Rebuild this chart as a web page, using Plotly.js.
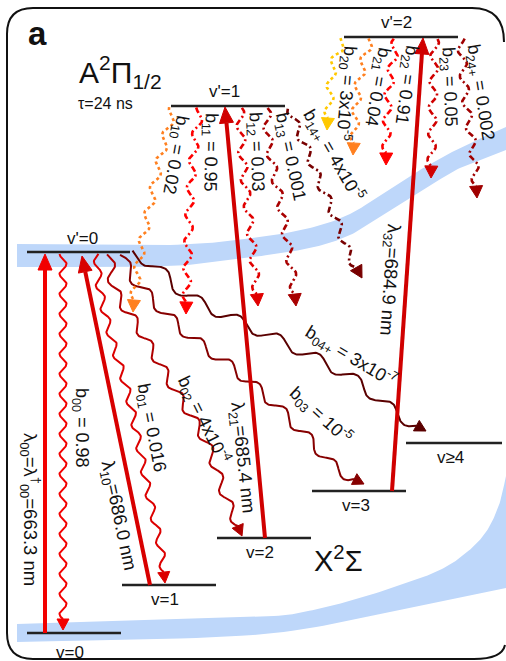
<!DOCTYPE html>
<html>
<head>
<meta charset="utf-8">
<script src="https://cdn.plot.ly/plotly-3.0.1.min.js"></script>
<style>
  html, body { margin: 0; padding: 0; background: #fff; overflow: hidden; }
  #chart { width: 506px; height: 661px; }
</style>
</head>
<body>
<div id="chart"></div>
<script>
// ---- spectroscopic values ----
const upperStates = ["v'=0", "v'=1", "v'=2"];
const lowerStates = ["v=0", "v=1", "v=2", "v=3", "v≥4"];
const pumpNames = ["λ<sub>00</sub>=λ<sup>†</sup><sub>00</sub>", "λ<sub>10</sub>", "λ<sub>21</sub>", "λ<sub>32</sub>"];
const pumpNm = ["663.3", "686.0", "685.4", "684.9"];
const decayNames0 = ["00", "01", "02", "03", "04+"];
const decayRatios0 = ["0.98", "0.016", "4x10<sup>-4</sup>", "10<sup>-5</sup>", "3x10<sup>-7</sup>"];
const decayNames1 = ["10", "11", "12", "13", "14+"];
const decayRatios1 = ["0.02", "0.95", "0.03", "0.001", "4x10<sup>-5</sup>"];
const decayNames2 = ["20", "21", "22", "23", "24+"];
const decayRatios2 = ["3x10<sup>-5</sup>", "0.04", "0.91", "0.05", "0.002"];
const excitedState = "A<sup>2</sup>Π<sub>1/2</sub>";
const groundState = "X<sup>2</sup>Σ";
const lifetime = "τ=24 ns";

// ---- diagram geometry (plot units) ----
const upperX0 = [27, 171, 344], upperX1 = [130, 285, 458], upperY = [252, 106, 37];
const upperLabelXY = [[82, 238], [224, 91], [396, 22]];
const lowerX0 = [27, 122, 217, 312, 406], lowerX1 = [121, 216, 311, 406, 502], lowerY = [633, 585, 538, 491, 443];
const lowerLabelXY = [[70, 652], [165, 599], [260, 552], [356, 505], [450, 457]];

const pumpFrom = [[45, 633], [150, 585], [265, 538], [392, 491]];
const pumpTo = [[45, 254], [82, 256], [225, 107], [423, 38]];
const pumpColor = ["#f20000", "#d80000", "#d00000", "#d00000"];
const pumpLabelXY = [[31, 509], [118, 516], [242, 458], [389, 280]];
const pumpLabelAngle = [90, 78, 84, 94];

// centrelines of the spontaneous-decay paths
const decayPaths0 = [
  [[63, 254], [63, 630]],
  [[97, 254], [100, 290], [112, 340], [127, 390], [138, 440], [150, 500], [160, 545], [165, 583]],
  [[110, 254], [115, 290], [140, 330], [175, 390], [205, 440], [225, 495], [242, 536]],
  [[122, 254], [135, 280], [183, 330], [235, 370], [270, 400], [310, 440], [336, 468], [364, 484]],
  [[131, 254], [152, 264], [190, 297], [253, 328], [303, 352], [353, 379], [396, 413], [426, 431]]
];
const decayColors0 = ["#f20000", "#dc0000", "#b00000", "#860000", "#5a0000"];
const decayAmp0 = [3.5, 3.5, 4.5, 5, 5.5];
const decayPeriod0 = [20, 24, 30, 36, 44];
const decayLabelXY0 = [[81, 428], [151, 428], [204, 419], [321, 415], [351, 356]];
const decayLabelAngle0 = [90, 79, 64, 42, 31];

const decayPaths1 = [
  [[173, 108], [160, 160], [148, 215], [140, 255], [135, 290], [133, 312]],
  [[200, 108], [194, 150], [190, 200], [188, 250], [187, 280], [186, 314]],
  [[240, 108], [242, 150], [247, 200], [252, 243], [258, 306]],
  [[267, 108], [268, 135], [273, 167], [280, 200], [287, 240], [293, 280], [296, 306]],
  [[290, 108], [298, 130], [308, 152], [318, 178], [330, 205], [340, 230], [348, 252], [362, 278]]
];
const decayColors1 = ["#ff8020", "#ff0000", "#e00000", "#a80000", "#780000"];
const decayLabelXY1 = [[175, 155], [210, 152], [256, 152], [290, 157], [334, 155]];
const decayLabelAngle1 = [100, 91, 88, 78, 60];

const decayPaths2 = [
  [[343, 39], [333, 67], [330, 93], [327, 130]],
  [[370, 39], [360, 77], [356, 110], [353, 155]],
  [[396, 39], [388, 100], [386, 165]],
  [[435, 39], [433, 100], [431, 178]],
  [[461, 39], [466, 100], [473, 150], [477, 198]]
];
const decayColors2 = ["#ffc800", "#ff8020", "#ff0000", "#d00000", "#a00000"];
const decayLabelXY2 = [[347, 93], [377, 87], [406, 85], [449, 87], [480, 92]];
const decayLabelAngle2 = [95, 100, 98, 88, 81];

// potential-curve bands
const bandUpperTop = [[17, 244], [170, 245], [253, 238], [310, 228], [350, 214], [385, 192], [420, 170], [460, 148], [506, 127]];
const bandUpperBot = [[17, 267], [170, 266], [253, 257], [310, 248], [350, 235], [385, 214], [420, 192], [460, 168], [506, 150]];
const bandLowerTop = [[17, 624], [253, 617], [303, 612], [353, 600], [403, 584], [440, 570], [466, 553], [486, 532], [499, 505], [506, 476]];
const bandLowerBot = [[17, 642], [253, 635], [380, 614], [506, 588]];

// ---- helpers ----
const FONT = "Liberation Sans, Arial, sans-serif";

function densify(pts, steps) {
  steps = steps || 24;
  const out = [];
  const n = pts.length;
  for (let i = 0; i < n - 1; i++) {
    const p0 = pts[Math.max(i - 1, 0)], p1 = pts[i], p2 = pts[i + 1], p3 = pts[Math.min(i + 2, n - 1)];
    for (let k = 0; k < steps; k++) {
      const t = k / steps, t2 = t * t, t3 = t2 * t;
      const f = (a, b, c, d) => 0.5 * (2 * b + (-a + c) * t + (2 * a - 5 * b + 4 * c - d) * t2 + (-a + 3 * b - 3 * c + d) * t3);
      out.push([f(p0[0], p1[0], p2[0], p3[0]), f(p0[1], p1[1], p2[1], p3[1])]);
    }
  }
  out.push(pts[n - 1]);
  return out;
}

function makeSampler(curve) {
  const cum = [0];
  for (let i = 1; i < curve.length; i++) {
    cum.push(cum[i - 1] + Math.hypot(curve[i][0] - curve[i - 1][0], curve[i][1] - curve[i - 1][1]));
  }
  const total = cum[cum.length - 1];
  function at(s) {
    s = Math.max(0, Math.min(total, s));
    let i = 1;
    while (i < cum.length - 1 && cum[i] < s) i++;
    const a = curve[i - 1], b = curve[i];
    const seg = cum[i] - cum[i - 1] || 1e-9;
    const u = (s - cum[i - 1]) / seg;
    const dx = (b[0] - a[0]) / seg, dy = (b[1] - a[1]) / seg;
    return { x: a[0] + (b[0] - a[0]) * u, y: a[1] + (b[1] - a[1]) * u, tx: dx, ty: dy };
  }
  return { at, total };
}

function headTrace(base, tip, halfW, color) {
  const dx = tip[0] - base[0], dy = tip[1] - base[1];
  const L = Math.hypot(dx, dy) || 1;
  const nx = -dy / L, ny = dx / L;
  return {
    type: "scatter", mode: "lines", hoverinfo: "skip",
    x: [tip[0], base[0] + nx * halfW, base[0] - nx * halfW, tip[0]],
    y: [tip[1], base[1] + ny * halfW, base[1] - ny * halfW, tip[1]],
    fill: "toself", fillcolor: color, line: { color: color, width: 1 }
  };
}

function wavyArrow(pts, amp, period, color, width, dash, headLen, headHalf) {
  const sampler = makeSampler(densify(pts));
  const end = sampler.total - headLen;
  const xs = [], ys = [];
  for (let s = 0; s <= end; s += 0.8) {
    const p = sampler.at(s);
    const off = amp * Math.sin(2 * Math.PI * (end - s) / period);
    xs.push(p.x - p.ty * off);
    ys.push(p.y + p.tx * off);
  }
  const b = sampler.at(end);
  xs.push(b.x); ys.push(b.y);
  const tip = sampler.at(sampler.total);
  return [
    { type: "scatter", mode: "lines", hoverinfo: "skip", x: xs, y: ys,
      line: { color: color, width: width, dash: dash } },
    headTrace([b.x, b.y], [tip.x, tip.y], headHalf, color)
  ];
}

function band(top, bot) {
  const pts = densify(top, 16).concat(densify(bot, 16).reverse());
  return {
    type: "scatter", mode: "lines", hoverinfo: "skip",
    x: pts.map(p => p[0]), y: pts.map(p => p[1]),
    fill: "toself", fillcolor: "rgb(190,215,250)", line: { color: "rgba(0,0,0,0)", width: 0 }
  };
}

function label(text, xy, angle, size, extra) {
  return Object.assign({
    x: xy[0], y: xy[1], xref: "x", yref: "y", text: text, showarrow: false,
    textangle: angle, font: { family: FONT, size: size, color: "#111" },
    xanchor: "center", yanchor: "middle"
  }, extra || {});
}

// ---- traces ----
const traces = [];
traces.push(band(bandUpperTop, bandUpperBot));
traces.push(band(bandLowerTop, bandLowerBot));

// vibrational levels
upperStates.forEach((s, i) => traces.push({
  type: "scatter", mode: "lines", hoverinfo: "skip",
  x: [upperX0[i], upperX1[i]], y: [upperY[i], upperY[i]], line: { color: "#222", width: 2.5 }
}));
lowerStates.forEach((s, i) => traces.push({
  type: "scatter", mode: "lines", hoverinfo: "skip",
  x: [lowerX0[i], lowerX1[i]], y: [lowerY[i], lowerY[i]], line: { color: "#222", width: 2.5 }
}));

// decays from v'=0 (solid wavy)
decayPaths0.forEach((p, i) => {
  traces.push(...wavyArrow(p, decayAmp0[i], decayPeriod0[i], decayColors0[i], 2, "solid", 11, 6));
});
// decays from v'=1 and v'=2 (broken wavy)
const brokenDash = "6px,3px,2px,3px";
const dottedDash = "3px,3px";
decayPaths1.forEach((p, i) => {
  const d = i === 0 ? dottedDash : brokenDash;
  traces.push(...wavyArrow(p, 4, 27, decayColors1[i], 2.6, d, 12, 6.5));
});
decayPaths2.forEach((p, i) => {
  const d = i <= 1 ? dottedDash : brokenDash;
  traces.push(...wavyArrow(p, 4, 26, decayColors2[i], 2.6, d, 12, 6.5));
});

// pump transitions
pumpFrom.forEach((a, i) => {
  const b = pumpTo[i];
  const dx = b[0] - a[0], dy = b[1] - a[1], L = Math.hypot(dx, dy);
  const hl = 16;
  const base = [b[0] - dx / L * hl, b[1] - dy / L * hl];
  traces.push({ type: "scatter", mode: "lines", hoverinfo: "skip",
    x: [a[0], base[0]], y: [a[1], base[1]], line: { color: pumpColor[i], width: 4 } });
  traces.push(headTrace(base, b, 7, pumpColor[i]));
});

// ---- text ----
const annotations = [];
annotations.push(label("<b>a</b>", [37, 33], 0, 33));
annotations.push(label(excitedState, [77, 72], 0, 30, { xanchor: "left" }));
annotations.push(label(lifetime, [76, 103], 0, 16, { xanchor: "left" }));
annotations.push(label(groundState, [338, 559], 0, 29));
upperStates.forEach((s, i) => annotations.push(label(s, upperLabelXY[i], 0, 17)));
lowerStates.forEach((s, i) => annotations.push(label(s, lowerLabelXY[i], 0, 17)));
pumpNames.forEach((n, i) => annotations.push(
  label(n + "=" + pumpNm[i] + " nm", pumpLabelXY[i], pumpLabelAngle[i], 18.5)));
decayNames0.forEach((n, i) => annotations.push(
  label("b<sub>" + n + "</sub> = " + decayRatios0[i], decayLabelXY0[i], decayLabelAngle0[i], 18)));
decayNames1.forEach((n, i) => annotations.push(
  label("b<sub>" + n + "</sub> = " + decayRatios1[i], decayLabelXY1[i], decayLabelAngle1[i], 18)));
decayNames2.forEach((n, i) => annotations.push(
  label("b<sub>" + n + "</sub> = " + decayRatios2[i], decayLabelXY2[i], decayLabelAngle2[i], 18)));

// panel outline: rounded corners, right side runs past the page edge
const frame = "M 504 42 Q 504 8 472 8 L 33 8 Q 7 8 7 34 L 7 633 Q 7 659 33 659 L 474 659 Q 502 659 505 645";

const layout = {
  width: 506, height: 661,
  margin: { l: 0, r: 0, t: 0, b: 0, pad: 0 },
  paper_bgcolor: "#fff", plot_bgcolor: "#fff",
  showlegend: false,
  xaxis: { range: [0, 506], visible: false, fixedrange: true },
  yaxis: { range: [661, 0], visible: false, fixedrange: true },
  shapes: [{
    type: "path", xref: "x", yref: "y", path: frame,
    line: { color: "#111", width: 2 }, layer: "above"
  }],
  annotations: annotations
};

Plotly.newPlot("chart", traces, layout, { staticPlot: true, displayModeBar: false });
</script>
</body>
</html>
